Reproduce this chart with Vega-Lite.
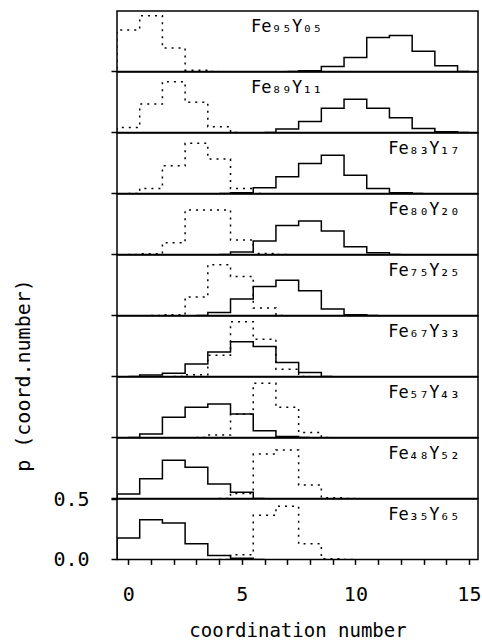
{
"$schema": "https://vega.github.io/schema/vega-lite/v6.json",
"autosize": {"type": "pad"},
"padding": {"left": 12, "top": 10, "right": 0, "bottom": 0},
"background": "white",
"spacing": 0,
"bounds": "flush",
"config": {
  "font": "DejaVu Sans Mono",
  "view": {"stroke": "black", "strokeWidth": 1.5},
  "concat": {"spacing": 0},
  "axis": {"labelColor": "black", "titleColor": "black", "tickColor": "black", "tickWidth": 1.5, "grid": false, "domain": false}
},
"data": {"values": [
{"a":"Fe95Y05","s":"Y","n":-1,"v":0},{"a":"Fe95Y05","s":"Y","n":0,"v":0.343},{"a":"Fe95Y05","s":"Y","n":1,"v":0.461},{"a":"Fe95Y05","s":"Y","n":2,"v":0.193},{"a":"Fe95Y05","s":"Y","n":3,"v":0.01},{"a":"Fe95Y05","s":"Y","n":4,"v":0},
{"a":"Fe95Y05","s":"Fe","n":7,"v":0},{"a":"Fe95Y05","s":"Fe","n":8,"v":0.005},{"a":"Fe95Y05","s":"Fe","n":9,"v":0.04},{"a":"Fe95Y05","s":"Fe","n":10,"v":0.116},{"a":"Fe95Y05","s":"Fe","n":11,"v":0.28},{"a":"Fe95Y05","s":"Fe","n":12,"v":0.298},{"a":"Fe95Y05","s":"Fe","n":13,"v":0.166},{"a":"Fe95Y05","s":"Fe","n":14,"v":0.047},{"a":"Fe95Y05","s":"Fe","n":15,"v":0},
{"a":"Fe89Y11","s":"Y","n":-1,"v":0},{"a":"Fe89Y11","s":"Y","n":0,"v":0.04},{"a":"Fe89Y11","s":"Y","n":1,"v":0.235},{"a":"Fe89Y11","s":"Y","n":2,"v":0.42},{"a":"Fe89Y11","s":"Y","n":3,"v":0.249},{"a":"Fe89Y11","s":"Y","n":4,"v":0.047},{"a":"Fe89Y11","s":"Y","n":5,"v":0},
{"a":"Fe89Y11","s":"Fe","n":6,"v":0},{"a":"Fe89Y11","s":"Fe","n":7,"v":0.028},{"a":"Fe89Y11","s":"Fe","n":8,"v":0.09},{"a":"Fe89Y11","s":"Fe","n":9,"v":0.2},{"a":"Fe89Y11","s":"Fe","n":10,"v":0.274},{"a":"Fe89Y11","s":"Fe","n":11,"v":0.2},{"a":"Fe89Y11","s":"Fe","n":12,"v":0.122},{"a":"Fe89Y11","s":"Fe","n":13,"v":0.033},{"a":"Fe89Y11","s":"Fe","n":14,"v":0.006},{"a":"Fe89Y11","s":"Fe","n":15,"v":0},
{"a":"Fe83Y17","s":"Y","n":0,"v":0},{"a":"Fe83Y17","s":"Y","n":1,"v":0.041},{"a":"Fe83Y17","s":"Y","n":2,"v":0.229},{"a":"Fe83Y17","s":"Y","n":3,"v":0.415},{"a":"Fe83Y17","s":"Y","n":4,"v":0.285},{"a":"Fe83Y17","s":"Y","n":5,"v":0.041},{"a":"Fe83Y17","s":"Y","n":6,"v":0},
{"a":"Fe83Y17","s":"Fe","n":4,"v":0},{"a":"Fe83Y17","s":"Fe","n":5,"v":0.005},{"a":"Fe83Y17","s":"Fe","n":6,"v":0.047},{"a":"Fe83Y17","s":"Fe","n":7,"v":0.138},{"a":"Fe83Y17","s":"Fe","n":8,"v":0.247},{"a":"Fe83Y17","s":"Fe","n":9,"v":0.315},{"a":"Fe83Y17","s":"Fe","n":10,"v":0.15},{"a":"Fe83Y17","s":"Fe","n":11,"v":0.04},{"a":"Fe83Y17","s":"Fe","n":12,"v":0.005},{"a":"Fe83Y17","s":"Fe","n":13,"v":0},
{"a":"Fe80Y20","s":"Y","n":0,"v":0},{"a":"Fe80Y20","s":"Y","n":1,"v":0.005},{"a":"Fe80Y20","s":"Y","n":2,"v":0.097},{"a":"Fe80Y20","s":"Y","n":3,"v":0.367},{"a":"Fe80Y20","s":"Y","n":4,"v":0.367},{"a":"Fe80Y20","s":"Y","n":5,"v":0.119},{"a":"Fe80Y20","s":"Y","n":6,"v":0.008},{"a":"Fe80Y20","s":"Y","n":7,"v":0},
{"a":"Fe80Y20","s":"Fe","n":4,"v":0},{"a":"Fe80Y20","s":"Fe","n":5,"v":0.02},{"a":"Fe80Y20","s":"Fe","n":6,"v":0.11},{"a":"Fe80Y20","s":"Fe","n":7,"v":0.24},{"a":"Fe80Y20","s":"Fe","n":8,"v":0.276},{"a":"Fe80Y20","s":"Fe","n":9,"v":0.193},{"a":"Fe80Y20","s":"Fe","n":10,"v":0.064},{"a":"Fe80Y20","s":"Fe","n":11,"v":0.014},{"a":"Fe80Y20","s":"Fe","n":12,"v":0},
{"a":"Fe75Y25","s":"Y","n":1,"v":0},{"a":"Fe75Y25","s":"Y","n":2,"v":0.005},{"a":"Fe75Y25","s":"Y","n":3,"v":0.152},{"a":"Fe75Y25","s":"Y","n":4,"v":0.42},{"a":"Fe75Y25","s":"Y","n":5,"v":0.323},{"a":"Fe75Y25","s":"Y","n":6,"v":0.061},{"a":"Fe75Y25","s":"Y","n":7,"v":0},
{"a":"Fe75Y25","s":"Fe","n":3,"v":0},{"a":"Fe75Y25","s":"Fe","n":4,"v":0.025},{"a":"Fe75Y25","s":"Fe","n":5,"v":0.135},{"a":"Fe75Y25","s":"Fe","n":6,"v":0.24},{"a":"Fe75Y25","s":"Fe","n":7,"v":0.29},{"a":"Fe75Y25","s":"Fe","n":8,"v":0.204},{"a":"Fe75Y25","s":"Fe","n":9,"v":0.052},{"a":"Fe75Y25","s":"Fe","n":10,"v":0.005},{"a":"Fe75Y25","s":"Fe","n":11,"v":0},
{"a":"Fe67Y33","s":"Y","n":2,"v":0},{"a":"Fe67Y33","s":"Y","n":3,"v":0.014},{"a":"Fe67Y33","s":"Y","n":4,"v":0.176},{"a":"Fe67Y33","s":"Y","n":5,"v":0.453},{"a":"Fe67Y33","s":"Y","n":6,"v":0.308},{"a":"Fe67Y33","s":"Y","n":7,"v":0.06},{"a":"Fe67Y33","s":"Y","n":8,"v":0},
{"a":"Fe67Y33","s":"Fe","n":0,"v":0},{"a":"Fe67Y33","s":"Fe","n":1,"v":0.011},{"a":"Fe67Y33","s":"Fe","n":2,"v":0.027},{"a":"Fe67Y33","s":"Fe","n":3,"v":0.102},{"a":"Fe67Y33","s":"Fe","n":4,"v":0.203},{"a":"Fe67Y33","s":"Fe","n":5,"v":0.286},{"a":"Fe67Y33","s":"Fe","n":6,"v":0.247},{"a":"Fe67Y33","s":"Fe","n":7,"v":0.115},{"a":"Fe67Y33","s":"Fe","n":8,"v":0.033},{"a":"Fe67Y33","s":"Fe","n":9,"v":0},
{"a":"Fe57Y43","s":"Y","n":3,"v":0},{"a":"Fe57Y43","s":"Y","n":4,"v":0.019},{"a":"Fe57Y43","s":"Y","n":5,"v":0.193},{"a":"Fe57Y43","s":"Y","n":6,"v":0.448},{"a":"Fe57Y43","s":"Y","n":7,"v":0.249},{"a":"Fe57Y43","s":"Y","n":8,"v":0.041},{"a":"Fe57Y43","s":"Y","n":9,"v":0},
{"a":"Fe57Y43","s":"Fe","n":0,"v":0},{"a":"Fe57Y43","s":"Fe","n":1,"v":0.028},{"a":"Fe57Y43","s":"Fe","n":2,"v":0.166},{"a":"Fe57Y43","s":"Fe","n":3,"v":0.249},{"a":"Fe57Y43","s":"Fe","n":4,"v":0.276},{"a":"Fe57Y43","s":"Fe","n":5,"v":0.193},{"a":"Fe57Y43","s":"Fe","n":6,"v":0.055},{"a":"Fe57Y43","s":"Fe","n":7,"v":0.008},{"a":"Fe57Y43","s":"Fe","n":8,"v":0},
{"a":"Fe48Y52","s":"Fe","n":-1,"v":0},{"a":"Fe48Y52","s":"Fe","n":0,"v":0.036},{"a":"Fe48Y52","s":"Fe","n":1,"v":0.163},{"a":"Fe48Y52","s":"Fe","n":2,"v":0.315},{"a":"Fe48Y52","s":"Fe","n":3,"v":0.257},{"a":"Fe48Y52","s":"Fe","n":4,"v":0.119},{"a":"Fe48Y52","s":"Fe","n":5,"v":0.05},{"a":"Fe48Y52","s":"Fe","n":6,"v":0},
{"a":"Fe48Y52","s":"Y","n":4,"v":0},{"a":"Fe48Y52","s":"Y","n":5,"v":0.04},{"a":"Fe48Y52","s":"Y","n":6,"v":0.367},{"a":"Fe48Y52","s":"Y","n":7,"v":0.4},{"a":"Fe48Y52","s":"Y","n":8,"v":0.11},{"a":"Fe48Y52","s":"Y","n":9,"v":0.005},{"a":"Fe48Y52","s":"Y","n":10,"v":0},
{"a":"Fe35Y65","s":"Fe","n":-1,"v":0},{"a":"Fe35Y65","s":"Fe","n":0,"v":0.177},{"a":"Fe35Y65","s":"Fe","n":1,"v":0.329},{"a":"Fe35Y65","s":"Fe","n":2,"v":0.301},{"a":"Fe35Y65","s":"Fe","n":3,"v":0.13},{"a":"Fe35Y65","s":"Fe","n":4,"v":0.033},{"a":"Fe35Y65","s":"Fe","n":5,"v":0.01},{"a":"Fe35Y65","s":"Fe","n":6,"v":0},
{"a":"Fe35Y65","s":"Y","n":4,"v":0},{"a":"Fe35Y65","s":"Y","n":5,"v":0.039},{"a":"Fe35Y65","s":"Y","n":6,"v":0.365},{"a":"Fe35Y65","s":"Y","n":7,"v":0.44},{"a":"Fe35Y65","s":"Y","n":8,"v":0.13},{"a":"Fe35Y65","s":"Y","n":9,"v":0.005},{"a":"Fe35Y65","s":"Y","n":10,"v":0}
]},
"vconcat": [
{"width": 361, "height": 60.4, "layer": [
 {"transform": [{"filter": {"field": "a", "equal": "Fe95Y05"}}], "mark": {"type": "line", "interpolate": "step", "clip": true, "color": "black", "strokeWidth": 1.5},
  "encoding": {"x": {"field": "n", "type": "quantitative", "scale": {"domain": [-0.5, 15.4], "nice": false, "zero": false}, "axis": null},
   "y": {"field": "v", "type": "quantitative", "scale": {"domain": [0, 0.5], "nice": false}, "axis": {"values": [0], "labels": false, "tickSize": 6, "title": null}},
   "strokeDash": {"field": "s", "type": "nominal", "scale": {"domain": ["Fe", "Y"], "range": [[1, 0], [2, 5]]}, "legend": null}}},
 {"data": {"values": [{}]}, "mark": {"type": "text", "align": "left", "baseline": "middle", "fontSize": 17, "color": "black"},
  "encoding": {"x": {"datum": 5.4, "type": "quantitative"}, "y": {"datum": 0.37, "type": "quantitative"}, "text": {"value": "Fe₉₅Y₀₅"}}}
]},
{"width": 361, "height": 60.4, "layer": [
 {"transform": [{"filter": {"field": "a", "equal": "Fe89Y11"}}], "mark": {"type": "line", "interpolate": "step", "clip": true, "color": "black", "strokeWidth": 1.5},
  "encoding": {"x": {"field": "n", "type": "quantitative", "scale": {"domain": [-0.5, 15.4], "nice": false, "zero": false}, "axis": null},
   "y": {"field": "v", "type": "quantitative", "scale": {"domain": [0, 0.5], "nice": false}, "axis": {"values": [0], "labels": false, "tickSize": 6, "title": null}},
   "strokeDash": {"field": "s", "type": "nominal", "scale": {"domain": ["Fe", "Y"], "range": [[1, 0], [2, 5]]}, "legend": null}}},
 {"data": {"values": [{}]}, "mark": {"type": "text", "align": "left", "baseline": "middle", "fontSize": 17, "color": "black"},
  "encoding": {"x": {"datum": 5.4, "type": "quantitative"}, "y": {"datum": 0.37, "type": "quantitative"}, "text": {"value": "Fe₈₉Y₁₁"}}}
]},
{"width": 361, "height": 60.4, "layer": [
 {"transform": [{"filter": {"field": "a", "equal": "Fe83Y17"}}], "mark": {"type": "line", "interpolate": "step", "clip": true, "color": "black", "strokeWidth": 1.5},
  "encoding": {"x": {"field": "n", "type": "quantitative", "scale": {"domain": [-0.5, 15.4], "nice": false, "zero": false}, "axis": null},
   "y": {"field": "v", "type": "quantitative", "scale": {"domain": [0, 0.5], "nice": false}, "axis": {"values": [0], "labels": false, "tickSize": 6, "title": null}},
   "strokeDash": {"field": "s", "type": "nominal", "scale": {"domain": ["Fe", "Y"], "range": [[1, 0], [2, 5]]}, "legend": null}}},
 {"data": {"values": [{}]}, "mark": {"type": "text", "align": "left", "baseline": "middle", "fontSize": 17, "color": "black"},
  "encoding": {"x": {"datum": 11.45, "type": "quantitative"}, "y": {"datum": 0.37, "type": "quantitative"}, "text": {"value": "Fe₈₃Y₁₇"}}}
]},
{"width": 361, "height": 60.4, "layer": [
 {"transform": [{"filter": {"field": "a", "equal": "Fe80Y20"}}], "mark": {"type": "line", "interpolate": "step", "clip": true, "color": "black", "strokeWidth": 1.5},
  "encoding": {"x": {"field": "n", "type": "quantitative", "scale": {"domain": [-0.5, 15.4], "nice": false, "zero": false}, "axis": null},
   "y": {"field": "v", "type": "quantitative", "scale": {"domain": [0, 0.5], "nice": false}, "axis": {"values": [0], "labels": false, "tickSize": 6, "title": null}},
   "strokeDash": {"field": "s", "type": "nominal", "scale": {"domain": ["Fe", "Y"], "range": [[1, 0], [2, 5]]}, "legend": null}}},
 {"data": {"values": [{}]}, "mark": {"type": "text", "align": "left", "baseline": "middle", "fontSize": 17, "color": "black"},
  "encoding": {"x": {"datum": 11.45, "type": "quantitative"}, "y": {"datum": 0.37, "type": "quantitative"}, "text": {"value": "Fe₈₀Y₂₀"}}}
]},
{"width": 361, "height": 60.4, "layer": [
 {"transform": [{"filter": {"field": "a", "equal": "Fe75Y25"}}], "mark": {"type": "line", "interpolate": "step", "clip": true, "color": "black", "strokeWidth": 1.5},
  "encoding": {"x": {"field": "n", "type": "quantitative", "scale": {"domain": [-0.5, 15.4], "nice": false, "zero": false}, "axis": null},
   "y": {"field": "v", "type": "quantitative", "scale": {"domain": [0, 0.5], "nice": false}, "axis": {"values": [0], "labels": false, "tickSize": 6, "title": null}},
   "strokeDash": {"field": "s", "type": "nominal", "scale": {"domain": ["Fe", "Y"], "range": [[1, 0], [2, 5]]}, "legend": null}}},
 {"data": {"values": [{}]}, "mark": {"type": "text", "align": "left", "baseline": "middle", "fontSize": 17, "color": "black"},
  "encoding": {"x": {"datum": 11.45, "type": "quantitative"}, "y": {"datum": 0.37, "type": "quantitative"}, "text": {"value": "Fe₇₅Y₂₅"}}}
]},
{"width": 361, "height": 60.4, "layer": [
 {"transform": [{"filter": {"field": "a", "equal": "Fe67Y33"}}], "mark": {"type": "line", "interpolate": "step", "clip": true, "color": "black", "strokeWidth": 1.5},
  "encoding": {"x": {"field": "n", "type": "quantitative", "scale": {"domain": [-0.5, 15.4], "nice": false, "zero": false}, "axis": null},
   "y": {"field": "v", "type": "quantitative", "scale": {"domain": [0, 0.5], "nice": false}, "axis": {"values": [0], "labels": false, "tickSize": 6, "title": null}},
   "strokeDash": {"field": "s", "type": "nominal", "scale": {"domain": ["Fe", "Y"], "range": [[1, 0], [2, 5]]}, "legend": null}}},
 {"data": {"values": [{}]}, "mark": {"type": "text", "align": "left", "baseline": "middle", "fontSize": 17, "color": "black"},
  "encoding": {"x": {"datum": 11.45, "type": "quantitative"}, "y": {"datum": 0.37, "type": "quantitative"}, "text": {"value": "Fe₆₇Y₃₃"}}}
]},
{"width": 361, "height": 60.4, "layer": [
 {"transform": [{"filter": {"field": "a", "equal": "Fe57Y43"}}], "mark": {"type": "line", "interpolate": "step", "clip": true, "color": "black", "strokeWidth": 1.5},
  "encoding": {"x": {"field": "n", "type": "quantitative", "scale": {"domain": [-0.5, 15.4], "nice": false, "zero": false}, "axis": null},
   "y": {"field": "v", "type": "quantitative", "scale": {"domain": [0, 0.5], "nice": false}, "axis": {"values": [0], "labels": false, "tickSize": 6, "title": null}},
   "strokeDash": {"field": "s", "type": "nominal", "scale": {"domain": ["Fe", "Y"], "range": [[1, 0], [2, 5]]}, "legend": null}}},
 {"data": {"values": [{}]}, "mark": {"type": "text", "align": "left", "baseline": "middle", "fontSize": 17, "color": "black"},
  "encoding": {"x": {"datum": 11.45, "type": "quantitative"}, "y": {"datum": 0.37, "type": "quantitative"}, "text": {"value": "Fe₅₇Y₄₃"}}}
]},
{"width": 361, "height": 60.4, "layer": [
 {"transform": [{"filter": {"field": "a", "equal": "Fe48Y52"}}], "mark": {"type": "line", "interpolate": "step", "clip": true, "color": "black", "strokeWidth": 1.5},
  "encoding": {"x": {"field": "n", "type": "quantitative", "scale": {"domain": [-0.5, 15.4], "nice": false, "zero": false}, "axis": null},
   "y": {"field": "v", "type": "quantitative", "scale": {"domain": [0, 0.5], "nice": false}, "axis": {"values": [0], "labels": false, "tickSize": 6, "title": null}},
   "strokeDash": {"field": "s", "type": "nominal", "scale": {"domain": ["Fe", "Y"], "range": [[1, 0], [2, 5]]}, "legend": null}}},
 {"data": {"values": [{}]}, "mark": {"type": "text", "align": "left", "baseline": "middle", "fontSize": 17, "color": "black"},
  "encoding": {"x": {"datum": 11.45, "type": "quantitative"}, "y": {"datum": 0.37, "type": "quantitative"}, "text": {"value": "Fe₄₈Y₅₂"}}}
]},
{"width": 361, "height": 60.4, "resolve": {"axis": {"x": "independent"}}, "layer": [
 {"transform": [{"filter": {"field": "a", "equal": "Fe35Y65"}}], "mark": {"type": "line", "interpolate": "step", "clip": true, "color": "black", "strokeWidth": 1.5},
  "encoding": {"x": {"field": "n", "type": "quantitative", "scale": {"domain": [-0.5, 15.4], "nice": false, "zero": false},
     "axis": {"orient": "bottom", "values": [0, 5, 10, 15], "ticks": false, "labelFontSize": 20, "labelPadding": 25, "labelFlush": false, "title": "coordination number", "titleFontSize": 19, "titleFontWeight": "normal", "titlePadding": 17}},
   "y": {"field": "v", "type": "quantitative", "scale": {"domain": [0, 0.5], "nice": false},
     "axis": {"values": [0, 0.5], "format": ".1f", "tickSize": 6, "labelFontSize": 20, "labelPadding": 22, "title": "p (coord.number)", "titleFontSize": 20, "titleFontWeight": "normal", "titleAngle": 270, "titleAlign": "center", "titleBaseline": "middle", "titleX": -94, "titleY": -124}},
   "strokeDash": {"field": "s", "type": "nominal", "scale": {"domain": ["Fe", "Y"], "range": [[1, 0], [2, 5]]}, "legend": null}}},
 {"data": {"values": [{}]}, "mark": {"type": "text", "align": "left", "baseline": "middle", "fontSize": 17, "color": "black"},
  "encoding": {"x": {"datum": 11.45, "type": "quantitative", "axis": {"orient": "bottom", "values": [0,1,2,3,4,5,6,7,8,9,10,11,12,13,14,15], "labels": false, "tickSize": 5, "title": null}},
   "y": {"datum": 0.37, "type": "quantitative"}, "text": {"value": "Fe₃₅Y₆₅"}}}
]}
]
}
